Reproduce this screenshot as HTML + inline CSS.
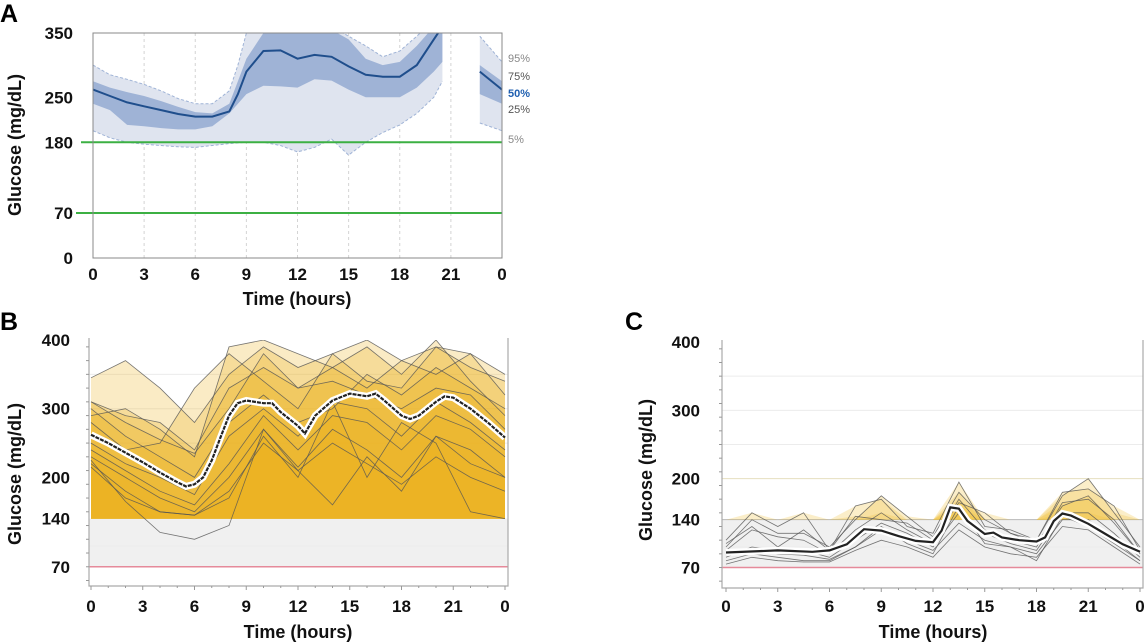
<!DOCTYPE html>
<html><head><meta charset="utf-8">
<style>
html,body{margin:0;padding:0;background:#fff;}
svg{display:block;font-family:"Liberation Sans",Arial,sans-serif;}
.tk{font-size:17px;font-weight:bold;fill:#111;}
.ttl{font-size:18px;font-weight:bold;fill:#111;}
.pl{font-size:25px;font-weight:bold;fill:#000;}
.pct{font-size:11px;}
</style></head>
<body>
<svg id="fig" width="1145" height="643" viewBox="0 0 1145 643" xmlns="http://www.w3.org/2000/svg">
<defs>
<clipPath id="clipA"><rect x="93" y="33" width="409" height="225"/></clipPath>
<clipPath id="clipB"><rect x="89" y="340" width="419" height="246"/></clipPath>
<clipPath id="clipC"><rect x="722" y="342" width="421" height="246"/></clipPath>
</defs>
<text class="pl" x="0" y="22">A</text>
<text class="pl" x="0" y="330">B</text>
<text class="pl" x="625" y="330">C</text>
<g id="gA"></g>
<g id="gB"></g>
<g id="gC"></g>
</svg>
<script>
// ---------- Panel A data ----------
const aHours = [0,1,2,3,4,5,6,7,8,8.5,9,10,11,12,13,14,15,16,17,18,19,20,20.5];
const aP50 = [262,252,242,236,230,224,220,220,228,255,290,322,323,310,316,313,298,285,282,282,300,340,360];
const aP25 = [240,230,207,205,202,200,200,205,225,240,255,268,267,265,278,276,262,250,250,250,265,290,305];
const aP75 = [275,265,258,252,244,235,227,225,240,275,310,350,355,355,355,355,340,310,300,305,330,360,370];
const aP95 = [300,285,278,270,260,248,240,240,260,300,350,370,370,370,370,360,345,330,313,322,345,370,370];
const aP5 = [198,187,180,177,175,173,172,175,178,179,180,180,175,165,172,185,160,180,195,207,225,250,275];
const aHours2 = [22.7,24];
const aP50b = [290,262];
const aP25b = [255,240];
const aP75b = [300,275];
const aP95b = [345,305];
const aP5b = [210,198];
const aYTicks = [0,70,180,250,350];
const aXTicks = ["0","3","6","9","12","15","18","21","0"];

// ---------- Panel B data ----------
const bHours = [0,2,4,6,8,10,12,14,16,18,20,22,24];
const bTraces = [
 [345,370,330,280,350,390,360,380,400,370,390,380,350],
 [310,280,255,235,300,380,330,360,330,370,350,380,320],
 [300,260,230,200,280,320,280,300,350,320,360,330,300],
 [280,240,250,330,380,340,300,380,340,330,390,360,340],
 [250,220,200,175,260,300,260,310,300,260,310,280,240],
 [240,210,180,160,220,290,240,290,280,240,290,270,230],
 [230,200,170,150,200,270,215,270,240,200,260,240,200],
 [220,180,150,145,170,260,200,310,200,280,250,150,140],
 [225,165,120,110,130,270,210,160,230,180,260,220,200],
 [215,170,150,145,180,250,210,250,220,190,230,200,180],
 [310,290,280,240,330,360,330,340,320,300,330,320,270],
 [290,300,270,230,390,400,380,360,390,350,400,340,290]
];
const bMeanHours = [0,1,2,3,4,5,5.5,6,6.5,7,7.5,8,8.5,9,10,10.5,11,12,12.4,13,14,15,16,16.5,17,18,18.5,19,20,20.5,21,22,23,24];
const bMean = [262,250,236,222,207,193,187,190,200,225,258,290,308,312,308,308,295,275,264,290,312,322,318,322,312,290,285,290,310,318,316,300,280,258];
const bYTicks = [70,140,200,300,400];
const bXTicks = ["0","3","6","9","12","15","18","21","0"];

// ---------- Panel C data ----------
const cHours = [0,1.5,3,4.5,6,7.5,9,10.5,12,13.5,15,16.5,18,19.5,21,22.5,24];
const cTraces = [
 [110,150,130,150,95,160,170,130,120,195,130,125,110,175,200,150,100],
 [100,140,120,120,100,140,175,145,115,180,140,120,110,180,185,160,95],
 [95,125,115,110,90,125,150,125,105,170,125,110,100,165,170,140,90],
 [85,100,95,95,85,110,135,120,100,150,120,105,95,150,150,120,85],
 [80,90,85,80,80,100,125,110,95,135,110,100,90,140,140,110,80],
 [75,85,80,78,78,95,110,100,85,125,100,90,85,130,125,100,75],
 [88,95,90,88,82,100,130,105,90,160,105,100,80,145,130,105,80],
 [105,130,100,125,95,145,140,135,110,165,150,120,105,160,175,135,90]
];
const cMeanHours = [0,3,5,6,7,8,9,10,11,12,12.5,13,13.5,14,15,15.5,16,17,18,18.5,19,19.5,20,21,22,23,24];
const cMean = [92,95,93,95,104,126,124,116,109,107,124,158,156,138,119,121,114,110,108,114,138,149,146,134,119,104,93];
const cYTicks = [70,140,200,300,400];
const cXTicks = ["0","3","6","9","12","15","18","21","0"];

const NS = "http://www.w3.org/2000/svg";
function mk(parent, tag, attrs){ const e=document.createElementNS(NS,tag); for(const k in attrs) e.setAttribute(k,attrs[k]); parent.appendChild(e); return e; }
function linePath(xs, ys, X, Y){ return xs.map((h,i)=>(i?'L':'M')+X(h).toFixed(1)+','+Y(ys[i]).toFixed(1)).join(''); }
function bandPath(xs, lo, hi, X, Y){
  let d = linePath(xs, hi, X, Y);
  for(let i=xs.length-1;i>=0;i--) d += 'L'+X(xs[i]).toFixed(1)+','+Y(lo[i]).toFixed(1);
  return d+'Z';
}

// ===== Panel A =====
(function(){
  const g=document.getElementById('gA');
  const X=h=>93+h/24*409, Y=v=>258-v/350*225;
  for(let i=1;i<8;i++){
    const gl=mk(g,'line',{x1:X(i*3),x2:X(i*3),y1:33,y2:258,stroke:'#d4d4d4','stroke-dasharray':'3,3'});
    
    
  }
  const cg=mk(g,'g',{'clip-path':'url(#clipA)'});
  [[aHours,aP5,aP95,aP25,aP75,aP50],[aHours2,aP5b,aP95b,aP25b,aP75b,aP50b]].forEach(s=>{
    const o=mk(cg,'path',{d:bandPath(s[0],s[1],s[2],X,Y),fill:'#dfe4ef'});
    
    
    const i2=mk(cg,'path',{d:bandPath(s[0],s[3],s[4],X,Y),fill:'#9fb3d6'});
    
    
    const d5=mk(cg,'path',{d:linePath(s[0],s[1],X,Y),fill:'none',stroke:'#9fb3d6','stroke-dasharray':'3,2'});
    
    
    const d95=mk(cg,'path',{d:linePath(s[0],s[2],X,Y),fill:'none',stroke:'#9fb3d6','stroke-dasharray':'3,2'});
    
    
    const m=mk(cg,'path',{d:linePath(s[0],s[5],X,Y),fill:'none',stroke:'#1f4e8c','stroke-width':2});
    
    
  });
  [180,70].forEach(v=>{
    const l=mk(g,'line',{x1:v==70?76:81,x2:502,y1:Y(v),y2:Y(v),stroke:'#3cb043','stroke-width':2});
    
    
  });
  const fr=mk(g,'rect',{x:93,y:33,width:409,height:225,fill:'none',stroke:'#888','stroke-width':1});
  
  
  aYTicks.forEach(v=>{
    const t=mk(g,'text',{x:73,y:Y(v)+6,'text-anchor':'end',class:'tk'}); t.textContent=v;
    
    
  });
  aXTicks.forEach((s,i)=>{
    const t=mk(g,'text',{x:X(i*3),y:280,'text-anchor':'middle',class:'tk'}); t.textContent=s;
    
    
  });
  const xt=mk(g,'text',{x:297,y:305,'text-anchor':'middle',class:'ttl'}); xt.textContent='Time (hours)';
  
  
  const yt=mk(g,'text',{x:0,y:0,'text-anchor':'middle',class:'ttl',transform:'translate(21,145) rotate(-90)'}); yt.textContent='Glucose (mg/dL)';
  
  
  [['95%',58,'#888'],['75%',76,'#555'],['50%',93,'#1f5fb0'],['25%',109,'#555'],['5%',139,'#888']].forEach(p=>{
    const t=mk(g,'text',{x:508,y:p[1]+4,class:'pct'}); t.textContent=p[0];
    t.style.fill=p[2];
    t.style.fontWeight=p[0]=='50%'?'bold':'normal';
    
    
  });
})();

// ===== Panels B & C (shared renderer) =====
function ambulatory(gid, L, R, x0, x24, yTop, yBot, yMinVal, traces, hours, meanH, meanV, yTicks, xTicks, labX, titleX, titleY, clip, fillA, pre){
  const g=document.getElementById(gid);
  const k=(yBot-yTop)/(400-yMinVal);
  const X=h=>x0+h/24*(x24-x0), Y=v=>yTop+(400-v)*k;
  const bot=yBot;
  const bg=mk(g,'rect',{x:L,y:Y(140),width:R-L,height:Y(70)-Y(140),fill:'#f0f0f0'});
  
  
  [100,250,300,350].forEach(v=>{ const l=mk(g,'line',{x1:L,x2:R,y1:Y(v),y2:Y(v),stroke:'#ececec'});
      });
  if(pre=='c'){ const l=mk(g,'line',{x1:L,x2:R,y1:Y(200),y2:Y(200),stroke:'#e6dfbf'});
     
    const l2=mk(g,'line',{x1:L,x2:R,y1:Y(140),y2:Y(140),stroke:'#b8b8b8'});
      }
  const cg=mk(g,'g',{'clip-path':'url(#'+clip+')'});
  traces.forEach(tr=>{
    const hi=tr.map(v=>Math.max(v,140)), lo=tr.map(()=>140);
    const f=mk(cg,'path',{d:bandPath(hours,lo,hi,X,Y),fill:fillA});
    
    
  });
  const pk=mk(cg,'line',{x1:L,x2:R,y1:Y(70),y2:Y(70),stroke:'#e58a9a','stroke-width':1.5});
  
  
  traces.forEach(tr=>{
    const p=mk(cg,'path',{d:linePath(hours,tr,X,Y),fill:'none',stroke:'#555','stroke-width':0.8,'stroke-opacity':0.8});
    
    
  });
  const halo=mk(cg,'path',{d:linePath(meanH,meanV,X,Y),fill:'none',stroke:'#fff','stroke-width':7});
  
  
  const ml=mk(cg,'path',{d:linePath(meanH,meanV,X,Y),fill:'none',stroke:'#222','stroke-width':2.2,'stroke-dasharray':pre=='b'?'4,1':'none'});
  
  
  const ax=mk(g,'path',{d:`M${L},${yTop-2}L${L},${bot}L${R},${bot}L${R},${yTop-2}`,fill:'none',stroke:'#aaa','stroke-width':1.2});
  
  
  for(let v=50; v<=400; v+=20){ if(v<yMinVal) continue;
    const t=mk(g,'line',{x1:L-3,x2:L,y1:Y(v),y2:Y(v),stroke:'#999'});
      }
  for(let h=0; h<=24; h++){
    const t=mk(g,'line',{x1:X(h),x2:X(h),y1:bot,y2:bot+(h%3?2:4),stroke:'#999'});
      }
  yTicks.forEach(v=>{
    const t=mk(g,'text',{x:labX,y:Y(v)+6,'text-anchor':'end',class:'tk'}); t.textContent=v;
     
  });
  xTicks.forEach((s,i)=>{
    const t=mk(g,'text',{x:X(i*3),y:612,'text-anchor':'middle',class:'tk'}); t.textContent=s;
     
  });
  const xt=mk(g,'text',{x:(x0+x24)/2,y:638,'text-anchor':'middle',class:'ttl'}); xt.textContent='Time (hours)';
   
  const yt=mk(g,'text',{x:0,y:0,'text-anchor':'middle',class:'ttl',transform:`translate(${titleX},${titleY}) rotate(-90)`}); yt.textContent='Glucose (mg/dL)';
   
}
ambulatory('gB',89,508,91,505,340,586,42,bTraces,bHours,bMeanHours,bMean,bYTicks,bXTicks,70,21,474,'clipB','rgba(236,178,30,0.26)','b');
ambulatory('gC',722,1143,726,1140,342,588,40,cTraces,cHours,cMeanHours,cMean,cYTicks,cXTicks,700,652,470,'clipC','rgba(240,195,60,0.28)','c');
</script>
</body></html>
